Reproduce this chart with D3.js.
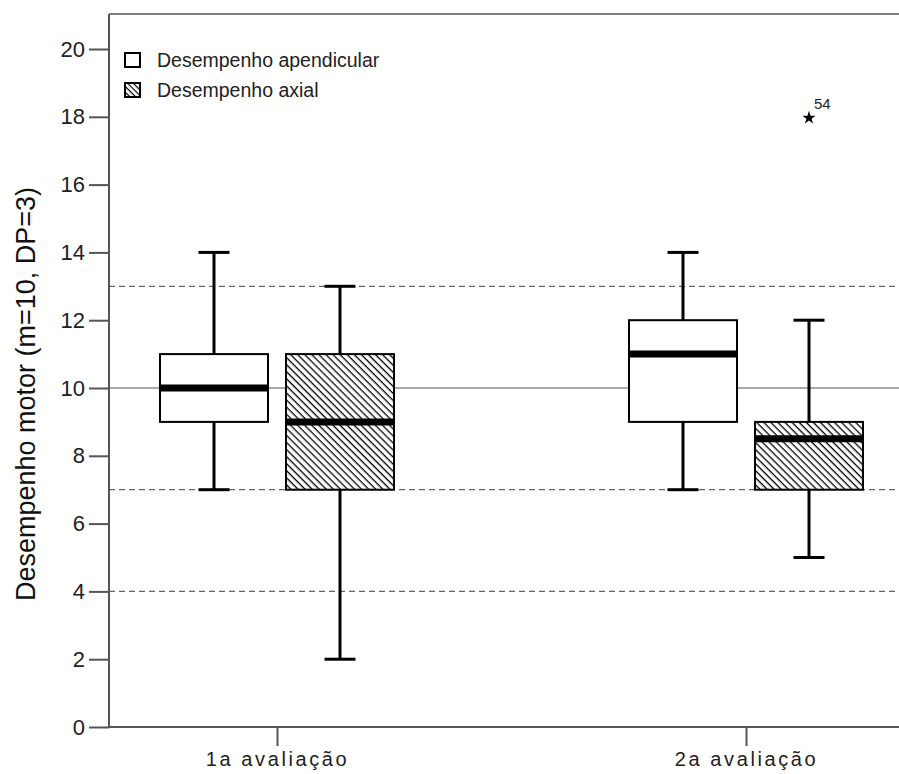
<!DOCTYPE html>
<html><head><meta charset="utf-8">
<script src="https://cdn.jsdelivr.net/npm/d3@7"></script>
<style>body{margin:0;background:#fff}svg{display:block}</style>
</head><body>
<script>
const groups = ["1a avaliação", "2a avaliação"];
const seriesNames = ["Desempenho apendicular", "Desempenho axial"];
const apendicular = [ {min:7, q1:9, med:10, q3:11, max:14}, {min:7, q1:9, med:11, q3:12, max:14} ];
const axial = [ {min:2, q1:7, med:9, q3:11, max:13}, {min:5, q1:7, med:8.5, q3:9, max:12} ];
const outliers = [ {group:1, series:1, value:18, label:"54"} ];
const yTicks = [0,2,4,6,8,10,12,14,16,18,20];
const refSolid = [10];
const refDashed = [13,7,4];

const FONT="Liberation Sans, Arial, sans-serif";
const W=899,H=774;
const svg=d3.select("body").append("svg").attr("width",W).attr("height",H);
const defs=svg.append("defs");
const pat=defs.append("pattern").attr("id","hatch").attr("patternUnits","userSpaceOnUse")
  .attr("width",5).attr("height",5).attr("patternTransform","rotate(45)");
pat.append("rect").attr("width",5).attr("height",5).attr("fill","#fff");
pat.append("line").attr("x1",0).attr("y1",0).attr("x2",5).attr("y2",0).attr("stroke","#000").attr("stroke-width",2.6);
const pat2=defs.append("pattern").attr("id","hatchS").attr("patternUnits","userSpaceOnUse")
  .attr("width",4).attr("height",4).attr("patternTransform","rotate(45)");
pat2.append("rect").attr("width",4).attr("height",4).attr("fill","#fff");
pat2.append("line").attr("x1",0).attr("y1",0).attr("x2",4).attr("y2",0).attr("stroke","#000").attr("stroke-width",2.4);

const pLeft=109, pRight=899, pTop=14, pBottom=727;
const y=d3.scaleLinear().domain([0,20]).range([pBottom,49]);
const x=d3.scalePoint().domain(groups).range([277,746]);
const sub=d3.scaleOrdinal().domain([0,1]).range([-63,63]);
const boxW=108, capW=31;

// frame
svg.append("line").attr("x1",pLeft).attr("x2",pRight).attr("y1",pTop).attr("y2",pTop).attr("stroke","#555").attr("stroke-width",1.5);

// reference lines
svg.selectAll(".rs").data(refSolid).enter().append("line")
  .attr("x1",pLeft).attr("x2",pRight).attr("y1",d=>y(d)).attr("y2",d=>y(d)).attr("stroke","#555").attr("stroke-width",1);
svg.selectAll(".rd").data(refDashed).enter().append("line")
  .attr("x1",pLeft).attr("x2",pRight).attr("y1",d=>y(d)).attr("y2",d=>y(d)).attr("stroke","#666").attr("stroke-width",1.2).attr("stroke-dasharray","6,4");

// y axis
const ya=svg.append("g").attr("transform",`translate(${pLeft},0)`)
  .call(d3.axisLeft(y).tickValues(yTicks).tickSize(20).tickPadding(4));
ya.attr("font-size",null).attr("font-family",null);
ya.select(".domain").attr("stroke","#555").attr("stroke-width",2).attr("d",`M0,${pTop}V${pBottom}`);
ya.selectAll(".tick line").attr("stroke","#555").attr("stroke-width",2);
ya.selectAll(".tick text").style("font-family",FONT).style("font-size","22px").attr("fill","#222");

// x axis
const xa=svg.append("g").attr("transform",`translate(0,${pBottom})`)
  .call(d3.axisBottom(x).tickSize(19).tickPadding(6));
xa.attr("font-size",null).attr("font-family",null);
xa.select(".domain").attr("stroke","#555").attr("stroke-width",2).attr("d",`M${pLeft},0H${pRight}`);
xa.selectAll(".tick line").attr("stroke","#555").attr("stroke-width",2);
xa.selectAll(".tick text").style("font-family",FONT).style("font-size","20px").attr("fill","#222").style("letter-spacing","2.6px");

// y title
svg.append("text").attr("transform",`translate(35,394) rotate(-90)`)
  .attr("text-anchor","middle").style("font-family",FONT).style("font-size","27px").attr("fill","#111")
  .text("Desempenho motor (m=10, DP=3)");

// boxes
const data=[];
groups.forEach((g,i)=>{ data.push({g,s:0,...apendicular[i]}); data.push({g,s:1,...axial[i]}); });
const bg=svg.selectAll(".box").data(data).enter().append("g").attr("transform",d=>`translate(${x(d.g)+sub(d.s)},0)`);
bg.append("line").attr("x1",0).attr("x2",0).attr("y1",d=>y(d.max)).attr("y2",d=>y(d.q3)).attr("stroke","#000").attr("stroke-width",3);
bg.append("line").attr("x1",0).attr("x2",0).attr("y1",d=>y(d.q1)).attr("y2",d=>y(d.min)).attr("stroke","#000").attr("stroke-width",3);
bg.append("line").attr("x1",-capW/2).attr("x2",capW/2).attr("y1",d=>y(d.max)).attr("y2",d=>y(d.max)).attr("stroke","#000").attr("stroke-width",3);
bg.append("line").attr("x1",-capW/2).attr("x2",capW/2).attr("y1",d=>y(d.min)).attr("y2",d=>y(d.min)).attr("stroke","#000").attr("stroke-width",3);
bg.append("rect").attr("x",-boxW/2).attr("width",boxW).attr("y",d=>y(d.q3)).attr("height",d=>y(d.q1)-y(d.q3))
  .attr("fill",d=>d.s?"url(#hatch)":"#fff").attr("stroke","#000").attr("stroke-width",2);
bg.append("line").attr("x1",-boxW/2).attr("x2",boxW/2).attr("y1",d=>y(d.med)).attr("y2",d=>y(d.med)).attr("stroke","#000").attr("stroke-width",7);

// outliers
outliers.forEach(o=>{
  const cx=x(groups[o.group])+sub(o.series), cy=y(o.value);
  svg.append("path").attr("d",d3.symbol(d3.symbolStar,55)()).attr("transform",`translate(${cx},${cy+1})`).attr("fill","#000");
  svg.append("text").attr("x",cx+5).attr("y",cy-8).style("font-family",FONT).style("font-size","15px").attr("fill","#222").text(o.label);
});

// legend
const lg=svg.append("g");
seriesNames.forEach((n,i)=>{
  const yy=53+i*30;
  lg.append("rect").attr("x",125).attr("y",yy).attr("width",15).attr("height",14)
    .attr("fill",i?"url(#hatchS)":"#fff").attr("stroke","#000").attr("stroke-width",2);
  lg.append("text").attr("x",157).attr("y",yy+14).style("font-family",FONT).style("font-size","19.5px").attr("fill","#222").text(n);
});
</script>
</body></html>
